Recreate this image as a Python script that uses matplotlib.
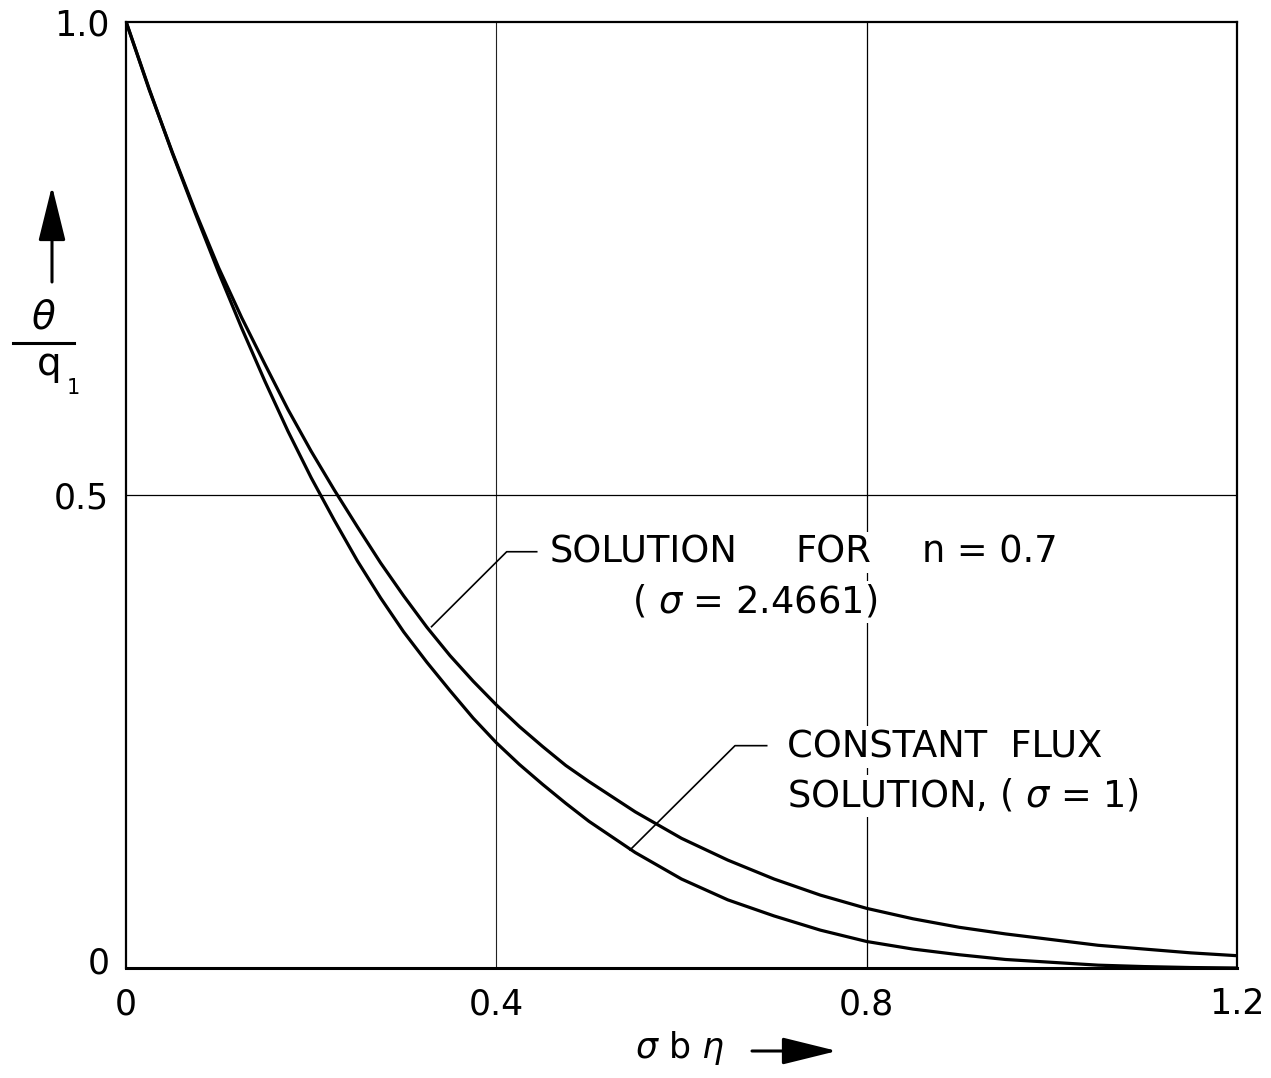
import matplotlib
matplotlib.use("Agg")
import matplotlib.pyplot as plt
from matplotlib.transforms import ScaledTranslation

# ---- data ----
x_vals = [0.000, 0.025, 0.050, 0.075, 0.100, 0.125, 0.150, 0.175, 0.200, 0.225,
          0.250, 0.275, 0.300, 0.325, 0.350, 0.375, 0.400, 0.425, 0.450, 0.475,
          0.500, 0.550, 0.600, 0.650, 0.700, 0.750, 0.800, 0.850, 0.900, 0.950,
          1.000, 1.050, 1.100, 1.150, 1.200]
theta_n07 = [1.000, 0.928, 0.862, 0.799, 0.740, 0.687, 0.638, 0.590, 0.546, 0.505,
             0.466, 0.428, 0.393, 0.360, 0.330, 0.303, 0.278, 0.255, 0.234, 0.214,
             0.197, 0.165, 0.137, 0.114, 0.094, 0.077, 0.063, 0.052, 0.043, 0.036,
             0.030, 0.024, 0.020, 0.016, 0.013]
theta_const = [1.000, 0.929, 0.861, 0.797, 0.735, 0.676, 0.620, 0.567, 0.518, 0.473,
               0.430, 0.391, 0.355, 0.323, 0.293, 0.264, 0.238, 0.215, 0.194, 0.174,
               0.155, 0.122, 0.094, 0.072, 0.055, 0.040, 0.028, 0.020, 0.014, 0.009,
               0.006, 0.003, 0.0015, 0.0005, 0.000]
x_ticks = [0, 0.4, 0.8, 1.2]
x_ticklabels = ["0", "0.4", "0.8", "1.2"]
y_ticks = [0, 0.5, 1.0]
y_ticklabels = ["0", "0.5", "1.0"]

W, H = 1271, 1078
fig = plt.figure(figsize=(W / 100, H / 100), dpi=100)
plt.rcParams['font.family'] = ['DejaVu Sans']
ax = fig.add_axes([126 / W, (H - 968) / H, (1237 - 126) / W, 946.5 / H])

ax.plot(x_vals, theta_n07, color='black', lw=2.3, zorder=4, solid_capstyle='round')
ax.plot(x_vals, theta_const, color='black', lw=2.3, zorder=4, solid_capstyle='round')

ax.set_xlim(0, 1.2)
ax.set_ylim(0, 1.0)
ax.set_xticks(x_ticks)
ax.set_xticklabels(x_ticklabels)
ax.set_yticks(y_ticks)
ax.set_yticklabels(y_ticklabels)
ax.tick_params(length=0, labelsize=25)
ax.tick_params(axis='y', pad=12)
ax.tick_params(axis='x', pad=14)
for s in ax.spines.values():
    s.set_linewidth(1.6)
ax.spines['bottom'].set_linewidth(2.2)

# nudge the y "0" label slightly upward, as in the original
lbl0 = ax.get_yticklabels()[0]
lbl0.set_transform(lbl0.get_transform() + ScaledTranslation(0, 8 / 100, fig.dpi_scale_trans))

# grid lines
ax.axvline(0.4, color='#222222', lw=0.8, zorder=1)
ax.axvline(0.8, color='black', lw=0.9, zorder=1)
ax.axhline(0.5, color='black', lw=0.9, zorder=1)

# annotations
box = dict(facecolor='white', edgecolor='none', pad=1.5)
fs = 26.5
def label(x, y, s):
    ax.text(x, y, s, fontsize=fs, ha='left', va='center', bbox=box, zorder=3)

label(0.458, 0.439, "SOLUTION")
label(0.723, 0.439, "FOR")
label(0.860, 0.439, "n = 0.7")
label(0.5466, 0.3867, "( $\\sigma$ = 2.4661)")
label(0.714, 0.2335, "CONSTANT  FLUX")
label(0.714, 0.1817, "SOLUTION, ( $\\sigma$ = 1)")

ax.plot([0.330, 0.4112, 0.4436], [0.3606, 0.4398, 0.4398], color='black', lw=1.2, zorder=5)
ax.plot([0.5444, 0.6578, 0.692], [0.1247, 0.2349, 0.2349], color='black', lw=1.2, zorder=5)

# y-axis label: arrow, theta / q1
def fp(x, y):
    return (x, H - y)

ax.annotate('', xy=fp(52, 186), xytext=fp(52, 282), xycoords='figure pixels',
            textcoords='figure pixels', annotation_clip=False,
            arrowprops=dict(arrowstyle='-|>,head_length=1.7,head_width=0.42', lw=2.2,
                            color='black', mutation_scale=20, shrinkA=0, shrinkB=0))
fig.text(44 / W, 1 - 317 / H, "$\\theta$", fontsize=28, ha='center', va='center')
fig.add_artist(plt.Line2D([13 / W, 74 / W], [1 - 343 / H, 1 - 343 / H], color='black',
                          lw=2.2, transform=fig.transFigure))
fig.text(49 / W, 1 - 364 / H, "q", fontsize=28, ha='center', va='center')
fig.text(73 / W, 1 - 388 / H, "1", fontsize=15, ha='center', va='center')

# x-axis label
fig.text(680 / W, 1 - 1048 / H, "$\\sigma$ b $\\eta$", fontsize=25, ha='center', va='center')
ax.annotate('', xy=fp(837, 1051), xytext=fp(752, 1051), xycoords='figure pixels',
            textcoords='figure pixels', annotation_clip=False,
            arrowprops=dict(arrowstyle='-|>,head_length=1.7,head_width=0.42', lw=2.2,
                            color='black', mutation_scale=20, shrinkA=0, shrinkB=0))

fig.savefig("out.png", dpi=100, facecolor='white')
